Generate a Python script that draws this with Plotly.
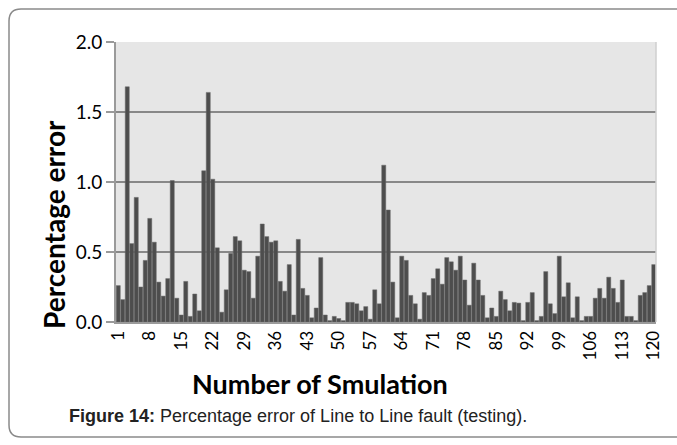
import plotly.graph_objects as go

simulation = list(range(1, 121))
percentage_error = [
    0.26, 0.16, 1.68, 0.56, 0.89, 0.25, 0.44, 0.74, 0.57, 0.285,
    0.185, 0.31, 1.01, 0.17, 0.05, 0.29, 0.04, 0.20, 0.08, 1.08,
    1.64, 1.02, 0.53, 0.07, 0.23, 0.49, 0.61, 0.58, 0.37, 0.36,
    0.17, 0.47, 0.70, 0.61, 0.57, 0.58, 0.29, 0.22, 0.41, 0.05,
    0.59, 0.24, 0.19, 0.03, 0.10, 0.46, 0.05, 0.01, 0.04, 0.025,
    0.01, 0.14, 0.14, 0.13, 0.08, 0.11, 0.02, 0.23, 0.13, 1.12,
    0.80, 0.285, 0.03, 0.47, 0.44, 0.19, 0.13, 0.02, 0.21, 0.19,
    0.31, 0.38, 0.27, 0.46, 0.43, 0.37, 0.47, 0.30, 0.12, 0.42,
    0.30, 0.19, 0.03, 0.10, 0.04, 0.22, 0.16, 0.08, 0.14, 0.135,
    0.01, 0.14, 0.21, 0.01, 0.04, 0.36, 0.13, 0.06, 0.47, 0.18,
    0.28, 0.03, 0.18, 0.01, 0.04, 0.04, 0.17, 0.24, 0.17, 0.32,
    0.24, 0.14, 0.30, 0.04, 0.04, 0.01, 0.19, 0.21, 0.26, 0.41,
]
x_tick_values = list(range(1, 121, 7))
y_tick_values = [0.0, 0.5, 1.0, 1.5, 2.0]
y_tick_labels = ["0.0", "0.5", "1.0", "1.5", "2.0"]

fig = go.Figure()
fig.add_trace(go.Bar(
    x=simulation, y=percentage_error,
    marker=dict(color="#4d4d4d", line=dict(color="#6a6a6a", width=0.5)),
    hoverinfo="x+y",
))

fig.update_layout(
    width=677, height=445,
    margin=dict(l=116, r=21, t=42, b=123),
    paper_bgcolor="white",
    plot_bgcolor="#e6e6e6",
    bargap=0.1,
    showlegend=False,
    font=dict(family="Lato, Open Sans, sans-serif", color="black"),
)
fig.update_xaxes(
    range=[0.5, 120.5],
    tickmode="array", tickvals=x_tick_values,
    ticktext=[str(v) for v in x_tick_values],
    tickangle=-90,
    tickfont=dict(size=17, family="Lato"),
    showgrid=False, zeroline=False,
    showline=True, linecolor="#9a9a9a", linewidth=2,
    ticks="", mirror=False,
)
fig.update_yaxes(
    range=[0, 2.0],
    tickmode="array", tickvals=y_tick_values, ticktext=y_tick_labels,
    tickfont=dict(size=19, family="Lato"),
    showgrid=True, gridcolor="#888888", gridwidth=2,
    zeroline=False,
    showline=True, linecolor="#9a9a9a", linewidth=2,
    ticks="outside", ticklen=8, tickcolor="#9a9a9a", tickwidth=2,
)

# right edge of plot area
fig.add_shape(type="line", xref="paper", yref="paper", x0=1, x1=1, y0=0, y1=1,
              line=dict(color="#cfcfcf", width=1.5))

# axis titles
fig.add_annotation(text="<b>Percentage error</b>", xref="paper", yref="paper",
                   x=-0.115, y=0.35, textangle=-90, showarrow=False,
                   xanchor="center", yanchor="middle",
                   font=dict(size=28, family="Lato", color="black"))
fig.add_annotation(text="<b>Number of Smulation</b>", xref="paper", yref="paper",
                   x=0.378, y=-0.218, showarrow=False,
                   xanchor="center", yanchor="middle",
                   font=dict(size=27, family="Lato", color="black"))

# caption
fig.add_annotation(text="<b>Figure 14:</b> Percentage error of Line to Line fault (testing).",
                   xref="paper", yref="paper",
                   x=(67 - 116) / 540, y=(322 - 416) / 280, showarrow=False,
                   xanchor="left", yanchor="middle",
                   font=dict(size=18, family="Liberation Sans Narrow, Liberation Sans, Arial", color="#222"))

# rounded frame around the figure (pixel coords converted to paper coords)
def px(xv):
    return (xv - 116) / 540
def py(yv):
    return (322 - yv) / 280
r = 12
x0, y0, x1, y1 = 9, 9, 690, 437
path_paper = (f"M {px(x0+r)},{py(y0)} L {px(x1)},{py(y0)} M {px(x1)},{py(y1)} L {px(x0+r)},{py(y1)} "
              f"Q {px(x0)},{py(y1)} {px(x0)},{py(y1-r)} L {px(x0)},{py(y0+r)} Q {px(x0)},{py(y0)} {px(x0+r)},{py(y0)}")
fig.add_shape(type="path", xref="paper", yref="paper", path=path_paper,
              line=dict(color="#8a8a8a", width=1.5))

fig.write_html("out.html", config={"displayModeBar": False},
               post_script="document.body.style.margin='0';")
